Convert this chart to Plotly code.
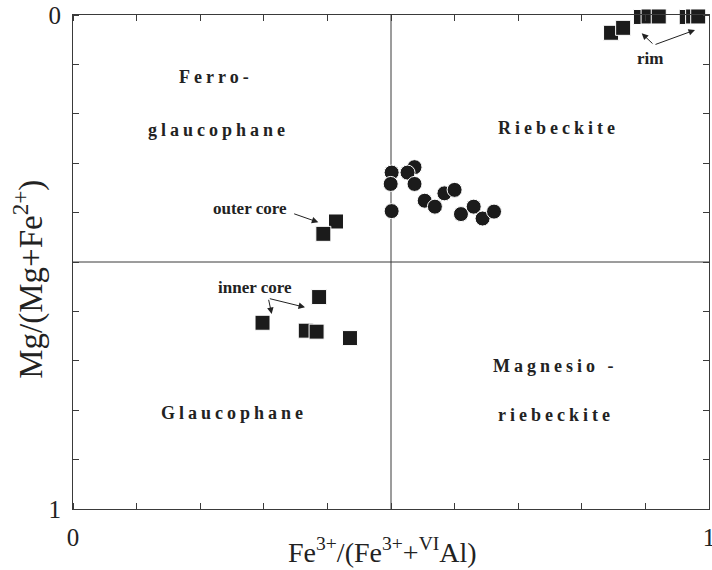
import plotly.graph_objects as go

# ---- data ----
rim_x = [0.846, 0.865, 0.893, 0.905, 0.921, 0.965, 0.975, 0.983]
rim_y = [0.036, 0.026, 0.004, 0.003, 0.003, 0.004, 0.003, 0.003]

outer_x = [0.4135, 0.3936]
outer_y = [0.418, 0.443]

inner_x = [0.387, 0.298, 0.366, 0.383, 0.4355]
inner_y = [0.571, 0.623, 0.639, 0.641, 0.654]

circ_x = [0.501, 0.4995, 0.501, 0.537, 0.526, 0.537, 0.553, 0.569, 0.584, 0.600, 0.610, 0.630, 0.644, 0.662]
circ_y = [0.319, 0.342, 0.397, 0.308, 0.319, 0.342, 0.376, 0.388, 0.361, 0.354, 0.403, 0.388, 0.412, 0.398]

tick_vals = [0, 1]
tick_text = ["0", "1"]

MARK = "#1b1b1b"
LINE = "#3a3a3a"
SERIF = "Liberation Serif, Times New Roman, serif"

fig = go.Figure()

sq = dict(symbol="square", size=15, color=MARK, line=dict(color="white", width=1))
fig.add_trace(go.Scatter(x=rim_x, y=rim_y, mode="markers", marker=sq, cliponaxis=False))
fig.add_trace(go.Scatter(x=outer_x, y=outer_y, mode="markers", marker=sq))
fig.add_trace(go.Scatter(x=inner_x, y=inner_y, mode="markers", marker=sq))
fig.add_trace(go.Scatter(x=circ_x, y=circ_y, mode="markers",
                         marker=dict(symbol="circle", size=15, color=MARK,
                                     line=dict(color="white", width=1))))

# quadrant dividers
fig.add_shape(type="line", x0=0.5, x1=0.5, y0=0, y1=1, xref="x", yref="y",
              line=dict(color=LINE, width=1), layer="below")
fig.add_shape(type="line", x0=0, x1=1, y0=0.5, y1=0.5, xref="x", yref="y",
              line=dict(color=LINE, width=1), layer="below")

big = dict(family=SERIF, size=18, color="#222222", weight="bold")
small = dict(family=SERIF, size=17, color="#222222", weight="bold")

labels = [
    ("Ferro-", 0.2245, 0.1255, big),
    ("glaucophane", 0.228, 0.233, big),
    ("Riebeckite", 0.7626, 0.2287, big),
    ("Glaucophane", 0.253, 0.806, big),
    ("Magnesio -", 0.758, 0.7105, big),
    ("riebeckite", 0.759, 0.81, big),
    ("outer core", 0.278, 0.3907, small),
    ("inner core", 0.2854, 0.5526, small),
    ("rim", 0.907, 0.089, small),
]
for t, x, y, f in labels:
    fig.add_annotation(text=t, x=x, y=y, xref="x", yref="y", showarrow=False,
                       font=f, xanchor="center", yanchor="middle")

arrows = [
    # (tail_x, tail_y, tip_x, tip_y)
    (0.3454, 0.4014, 0.3857, 0.4196),
    (0.3071, 0.5735, 0.3124, 0.6053),
    (0.3071, 0.5735, 0.3648, 0.5917),
    (0.9135, 0.0607, 0.8942, 0.037),
    (0.9135, 0.0607, 0.978, 0.0304),
]
for tx, ty, hx, hy in arrows:
    fig.add_annotation(text="", x=hx, y=hy, ax=tx, ay=ty, xref="x", yref="y",
                       axref="x", ayref="y", showarrow=True, arrowhead=2,
                       arrowsize=1.3, arrowwidth=1, arrowcolor="#222222")

# axis titles as annotations for precise placement
fig.add_annotation(text="Fe<sup>3+</sup>/(Fe<sup>3+</sup>+<sup>VI</sup>Al)",
                   x=0.486, y=-0.083, xref="paper", yref="paper", showarrow=False,
                   font=dict(family=SERIF, size=28, color="#222222"),
                   xanchor="center", yanchor="middle")
fig.add_annotation(text="Mg/(Mg+Fe<sup>2+</sup>)",
                   x=-0.07, y=0.465, xref="paper", yref="paper", showarrow=False,
                   textangle=-90,
                   font=dict(family=SERIF, size=33, color="#222222"),
                   xanchor="center", yanchor="middle")

axis_common = dict(range=[0, 1], tickmode="array", tickvals=tick_vals, ticktext=tick_text,
                   ticks="", showline=True, linecolor=LINE, linewidth=1, mirror="allticks",
                   minor=dict(ticks="inside", ticklen=6, tickwidth=1, tickcolor=LINE,
                              tickmode="linear", tick0=0, dtick=0.1, showgrid=False),
                   showgrid=False, zeroline=False, automargin=False,
                   ticklabeloverflow="allow",
                   tickfont=dict(family=SERIF, size=25, color="#222222"))

fig.update_xaxes(**axis_common, ticklabelstandoff=6)
fig.update_yaxes(**axis_common, autorange=False)
fig.update_yaxes(range=[1, 0], ticklabelstandoff=6)

fig.update_layout(width=712, height=570, showlegend=False,
                  margin=dict(l=73, r=3, t=15, b=61, autoexpand=False),
                  plot_bgcolor="white", paper_bgcolor="white")

post = """
document.body.style.margin = '0';
document.body.style.overflow = 'hidden';
var gd = document.getElementById('{plot_id}');
var names = ['Ferro-','glaucophane','Riebeckite','Glaucophane','Magnesio -','riebeckite'];
gd.querySelectorAll('text.annotation-text').forEach(function(t){
  if (names.indexOf(t.textContent) >= 0) { t.style.letterSpacing = '4px'; }
});
"""

fig.write_html("out.html", post_script=post, config={"displayModeBar": False})
